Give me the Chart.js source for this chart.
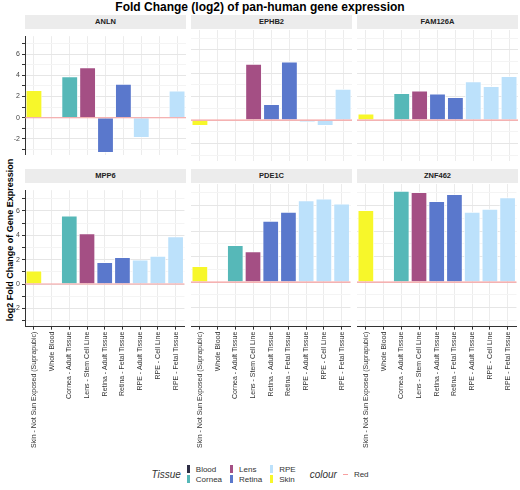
<!DOCTYPE html>
<html>
<head>
<meta charset="utf-8">
<script src="https://cdn.jsdelivr.net/npm/chart.js@4"></script>
<style>
  body { margin: 0; width: 520px; height: 490px; background: #fff; font-family: "Liberation Sans", Arial, sans-serif; position: relative; overflow: hidden; }
  .abs { position: absolute; }
  .strip { position: absolute; background: #ececec; font-size: 7.5px; font-weight: bold; text-align: center; line-height: 14px; color: #222; }
  #title { left: 0; width: 520px; top: 0; text-align: center; font-weight: bold; font-size: 12px; }
  #ytitle { left: -80px; top: 235px; width: 180px; transform: rotate(-90deg); text-align: center; font-size: 9px; font-weight: bold; }
  #legend { left: 0; width: 520px; top: 464px; display: flex; justify-content: center; align-items: center; font-size: 8px; color: #333; }
  .col { display: flex; flex-direction: column; margin-right: 8px; }
  .item { display: flex; align-items: center; height: 10px; }
  .key { display: inline-block; width: 3px; height: 8px; margin-right: 6px; }
</style>
</head>
<body>
<div id="title" class="abs">Fold Change (log2) of pan-human gene expression</div>
<div id="ytitle" class="abs">log2 Fold Change of Gene Expression</div>
<div id="legend" class="abs">
  <i style="font-size:10px;margin-right:6px">Tissue</i>
  <div class="col" id="leg1"></div>
  <div class="col" id="leg2"></div>
  <div class="col" id="leg3"></div>
  <i style="font-size:10px;margin:0 6px 0 6px">colour</i>
  <span class="item"><span class="key" style="width:5px;height:1px;background:#f8a0a0"></span>Red</span>
</div>

<script>
const categories = ["Skin - Not Sun Exposed (Suprapubic)", "Whole Blood", "Cornea - Adult Tissue", "Lens - Stem Cell Line",
  "Retina - Adult Tissue", "Retina - Fetal Tissue", "RPE - Adult Tissue", "RPE - Cell Line", "RPE - Fetal Tissue"];
const tissues = ["Skin", "Blood", "Cornea", "Lens", "Retina", "Retina", "RPE", "RPE", "RPE"];
const tissueColors = { Blood: "#2d2d44", Cornea: "#56b8b8", Lens: "#a44f84", Retina: "#5a78cc", RPE: "#bce1fb", Skin: "#f7f72a" };
const genes = ["ANLN", "EPHB2", "FAM126A", "MPP6", "PDE1C", "ZNF462"];
const anln = [2.6, null, 3.9, 4.75, -3.3, 3.2, -1.9, null, 2.55];
const ephb2 = [-0.5, null, null, 4.8, 1.35, 5.0, -0.2, -0.5, 2.65];
const fam126a = [0.55, null, 2.3, 2.5, 2.25, 1.95, 3.3, 2.9, 3.75];
const mpp6 = [1.1, null, 5.6, 4.15, 1.8, 2.2, 2.0, 2.3, 3.9];
const pde1c = [1.25, null, 2.9, 2.4, 4.8, 5.5, 6.4, 6.55, 6.15];
const znf462 = [5.65, null, 7.15, 7.05, 6.35, 6.9, 5.5, 5.75, 6.65];
const geneValues = [anln, ephb2, fam126a, mpp6, pde1c, znf462];
const legendRows = [["Blood", "Cornea"], ["Lens", "Retina"], ["RPE", "Skin"]];

legendRows.forEach((pair, i) => {
  document.getElementById("leg" + (i + 1)).innerHTML = pair.map(t =>
    `<span class="item"><span class="key" style="background:${tissueColors[t]}"></span>${t}</span>`).join("");
});

// pink reference line at y = 0 across the whole panel
const zeroLine = {
  id: "zeroLine",
  afterDatasetsDraw(chart) {
    const { ctx, chartArea, scales } = chart;
    const y = scales.y.getPixelForValue(0);
    ctx.save();
    ctx.strokeStyle = "#f8a0a0";
    ctx.lineWidth = 1.2;
    ctx.beginPath();
    ctx.moveTo(chartArea.left, y);
    ctx.lineTo(chartArea.right, y);
    ctx.stroke();
    ctx.restore();
  }
};

const colLeft = [10, 191, 357];
const colWidth = [176, 161, 161];
const rowTop = [15, 169];

genes.forEach((gene, i) => {
  const col = i % 3, row = Math.floor(i / 3);
  const first = col === 0, bottom = row === 1;
  const plotLeft = colLeft[col] + (first ? 15 : 0);
  const strip = document.createElement("div");
  strip.className = "strip";
  Object.assign(strip.style, { left: plotLeft + "px", top: rowTop[row] + "px", width: (colLeft[col] + colWidth[col] - plotLeft) + "px", height: "14px" });
  strip.textContent = gene;
  document.body.appendChild(strip);

  const wrap = document.createElement("div");
  wrap.className = "abs";
  const h = bottom ? 266 : 131;
  Object.assign(wrap.style, { left: colLeft[col] + "px", top: (rowTop[row] + 15) + "px", width: colWidth[col] + "px", height: h + "px" });
  const canvas = document.createElement("canvas");
  wrap.appendChild(canvas);
  document.body.appendChild(wrap);

  new Chart(canvas, {
    type: "bar",
    data: {
      labels: categories,
      datasets: [{
        data: geneValues[i],
        backgroundColor: tissues.map(t => tissueColors[t]),
        borderColor: "#ffffff",
        borderWidth: 0.8,
        categoryPercentage: 1,
        barPercentage: 0.92
      }]
    },
    options: {
      responsive: true,
      maintainAspectRatio: false,
      animation: false,
      layout: { padding: 0 },
      plugins: { legend: { display: false }, tooltip: { enabled: false } },
      scales: {
        x: {
          grid: { color: "#ececec", offset: false, drawTicks: bottom, tickLength: 3, tickColor: "#333" },
          border: { display: bottom, color: "#333", width: 1 },
          ticks: {
            display: bottom, autoSkip: false, maxRotation: 90, minRotation: 90, padding: 2,
            font: { size: 7, family: "Liberation Sans" }, color: "#333"
          },
          afterFit: s => { if (!bottom) s.height = 0; }
        },
        y: {
          min: -3.5, max: 7.7,
          afterBuildTicks: s => { s.ticks = [-3, -2, -1, 0, 1, 2, 3, 4, 5, 6, 7].map(v => ({ value: v })); },
          grid: { color: ctx => ctx.tick && ctx.tick.value % 2 === 0 ? "#e6e6e6" : "#f4f4f4", drawTicks: first, tickLength: 3, tickColor: "#333" },
          border: { display: first, color: "#333", width: 1 },
          ticks: {
            display: first, autoSkip: false, padding: 2,
            font: { size: 7, family: "Liberation Sans" }, color: "#444",
            callback: v => (v % 2 === 0 ? String(v) : "")
          },
          afterFit: s => { s.width = first ? 15 : 0; }
        }
      }
    },
    plugins: [zeroLine]
  });
});
</script>
</body>
</html>
